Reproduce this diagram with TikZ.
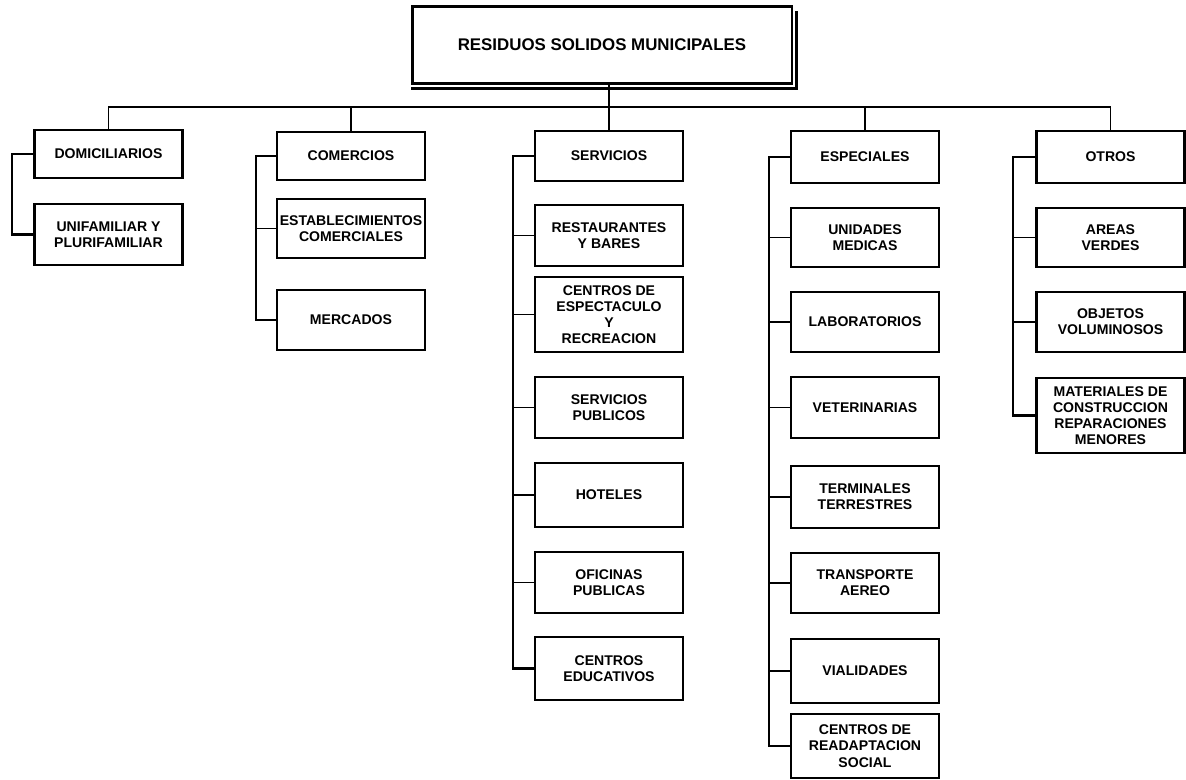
\documentclass[tikz,border=0pt]{standalone}
\usepackage{fontspec}
\setmainfont{Liberation Sans}

\begin{document}
\begin{tikzpicture}[
		x=0.025cm, y=-0.025cm,
		line width=1.4pt,
		box/.style={draw, line width=1.5pt, minimum width=3.7cm, inner sep=1pt, align=center, font=\bfseries\fontsize{10}{11.5}\selectfont},
		trunk/.style={line width=2pt},
	]
		\useasboundingbox (0,0) rectangle (1186,780);

		\node (rsm) [box, minimum width=9.475cm, minimum height=1.925cm, font=\bfseries\fontsize{12}{14}\selectfont] at (602,45) {RESIDUOS SOLIDOS MUNICIPALES};
		\draw[line width=2.6pt] ([shift={(4,6)}]rsm.north east) -- ([shift={(4,4)}]rsm.south east) -- ([shift={(0,4)}]rsm.south west);

		% first level
		\node (dom) [box, minimum height=1.2cm] at (108.5,154) {DOMICILIARIOS};
		\node (com) [box, minimum height=1.2cm] at (351,156) {COMERCIOS};
		\node (serv) [box, minimum height=1.25cm] at (609,156) {SERVICIOS};
		\node (esp) [box, minimum height=1.3cm] at (865,157) {ESPECIALES};
		\node (otr) [box, minimum height=1.3cm] at (1110.5,157) {OTROS};

		\coordinate (bus) at (0,107);
		\draw (dom.north) |- (bus -| otr.north) -- (otr.north);
		\draw (com.north) -- (bus -| com.north);
		\draw (esp.north) -- (bus -| esp.north);
		\draw[trunk] (rsm.south -| serv.north) -- (serv.north);

		% domiciliarios
		\node (unif) [box, minimum height=1.525cm] at (108.5,234.5) {UNIFAMILIAR Y\\PLURIFAMILIAR};
		\coordinate (t1) at (12,0);
		\draw[trunk] (dom.west) -| (t1 |- unif.west) -- (unif.west);

		% comercios
		\node (estab) [box, minimum height=1.475cm] at (351,228.5) {ESTABLECIMIENTOS\\COMERCIALES};
		\node (merc) [box, minimum height=1.5cm] at (351,320) {MERCADOS};
		\coordinate (t2) at (256,0);
		\draw[trunk] (com.west) -| (t2 |- merc.west) -- (merc.west);
		\draw (estab.west) -- (estab.west -| t2);

		% servicios
		\node (rest) [box, minimum height=1.525cm] at (609,235.5) {RESTAURANTES\\Y BARES};
		\node (espec) [box, minimum height=1.875cm] at (609,314.5) {CENTROS DE\\ESPECTACULO\\Y\\RECREACION};
		\node (spub) [box, minimum height=1.525cm] at (609,407.5) {SERVICIOS\\PUBLICOS};
		\node (hot) [box, minimum height=1.6cm] at (609,495) {HOTELES};
		\node (ofic) [box, minimum height=1.525cm] at (609,582.5) {OFICINAS\\PUBLICAS};
		\node (educ) [box, minimum height=1.575cm] at (609,668.5) {CENTROS\\EDUCATIVOS};
		\coordinate (t3) at (513,0);
		\draw[trunk] (serv.west) -| (t3 |- educ.west) -- (educ.west);
		\draw (rest.west) -- (rest.west -| t3);
		\draw (espec.west) -- (espec.west -| t3);
		\draw (spub.west) -- (spub.west -| t3);
		\draw (hot.west) -- (hot.west -| t3);
		\draw (ofic.west) -- (ofic.west -| t3);

		% especiales
		\node (umed) [box, minimum height=1.475cm] at (865,237.5) {UNIDADES\\MEDICAS};
		\node (lab) [box, minimum height=1.5cm] at (865,322) {LABORATORIOS};
		\node (vet) [box, minimum height=1.525cm] at (865,407.5) {VETERINARIAS};
		\node (term) [box, minimum height=1.55cm] at (865,497) {TERMINALES\\TERRESTRES};
		\node (aereo) [box, minimum height=1.5cm] at (865,583) {TRANSPORTE\\AEREO};
		\node (vial) [box, minimum height=1.6cm] at (865,671) {VIALIDADES};
		\node (readap) [box, minimum height=1.6cm] at (865,746) {CENTROS DE\\READAPTACION\\SOCIAL};
		\coordinate (t4) at (769,0);
		\draw[trunk] (esp.west) -| (t4 |- readap.west) -- (readap.west);
		\draw (umed.west) -- (umed.west -| t4);
		\draw (lab.west) -- (lab.west -| t4);
		\draw (vet.west) -- (vet.west -| t4);
		\draw (term.west) -- (term.west -| t4);
		\draw (aereo.west) -- (aereo.west -| t4);
		\draw (vial.west) -- (vial.west -| t4);

		% otros
		\node (verdes) [box, minimum height=1.475cm] at (1110.5,237.5) {AREAS\\VERDES};
		\node (obj) [box, minimum height=1.5cm] at (1110.5,322) {OBJETOS\\VOLUMINOSOS};
		\node (mat) [box, minimum height=1.875cm] at (1110.5,415.5) {MATERIALES DE\\CONSTRUCCION\\REPARACIONES\\MENORES};
		\coordinate (t5) at (1013,0);
		\draw[trunk] (otr.west) -| (t5 |- mat.west) -- (mat.west);
		\draw (verdes.west) -- (verdes.west -| t5);
		\draw (obj.west) -- (obj.west -| t5);
	\end{tikzpicture}
\end{document}
